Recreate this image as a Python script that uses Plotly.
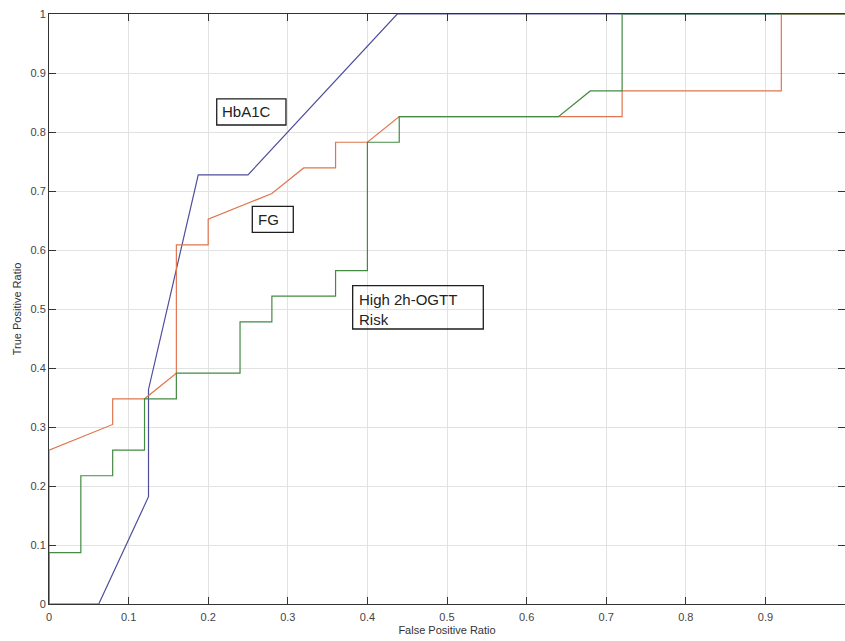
import plotly.graph_objects as go

# HbA1C ROC
hba1c_fpr = [0, 0.0625, 0.125, 0.125, 0.1875, 0.25, 0.4375, 1.0]
hba1c_tpr = [0, 0, 0.1818, 0.3636, 0.7273, 0.7273, 1.0, 1.0]

# FG ROC
fg_fpr = [0, 0, 0.08, 0.08, 0.12, 0.16, 0.16, 0.20, 0.20, 0.28, 0.32, 0.36, 0.36,
          0.40, 0.44, 0.72, 0.72, 0.92, 0.92, 1.0]
fg_tpr = [0, 0.2609, 0.3043, 0.3478, 0.3478, 0.3913, 0.6087, 0.6087, 0.6522, 0.6957,
          0.7391, 0.7391, 0.7826, 0.7826, 0.8261, 0.8261, 0.8696, 0.8696, 1.0, 1.0]

# High 2h-OGTT Risk ROC
ogtt_fpr = [0, 0, 0.04, 0.04, 0.08, 0.08, 0.12, 0.12, 0.16, 0.16, 0.24, 0.24, 0.28,
            0.28, 0.36, 0.36, 0.40, 0.40, 0.44, 0.44, 0.64, 0.68, 0.72, 0.72, 1.0]
ogtt_tpr = [0, 0.0870, 0.0870, 0.2174, 0.2174, 0.2609, 0.2609, 0.3478, 0.3478, 0.3913,
            0.3913, 0.4783, 0.4783, 0.5217, 0.5217, 0.5652, 0.5652, 0.7826, 0.7826,
            0.8261, 0.8261, 0.8696, 0.8696, 1.0, 1.0]

x_ticks = [0, 0.1, 0.2, 0.3, 0.4, 0.5, 0.6, 0.7, 0.8, 0.9]
x_tick_text = ["0", "0.1", "0.2", "0.3", "0.4", "0.5", "0.6", "0.7", "0.8", "0.9"]
y_ticks = [0, 0.1, 0.2, 0.3, 0.4, 0.5, 0.6, 0.7, 0.8, 0.9, 1.0]
y_tick_text = ["0", "0.1", "0.2", "0.3", "0.4", "0.5", "0.6", "0.7", "0.8", "0.9", "1"]

# label text boxes: text, box x0, x1, y0 (bottom), y1 (top), text left x, text mid y
label_texts = ["HbA1C", "FG", "High 2h-OGTT<br>Risk"]
label_box_x = [(0.2107, 0.2977), (0.2554, 0.3069), (0.3815, 0.5456)]
label_box_y = [(0.8119, 0.856), (0.6298, 0.6739), (0.4661, 0.5395)]
label_text_x = [0.2142, 0.2602, 0.3867]
label_text_y = [0.834, 0.652, 0.4995]

BLUE = "#4e4e9c"
ORANGE = "#e0764f"
GREEN = "#438a43"

fig = go.Figure()
fig.add_trace(go.Scatter(x=hba1c_fpr, y=hba1c_tpr, mode="lines",
                         line=dict(color=BLUE, width=1.2), name="HbA1C"))
fig.add_trace(go.Scatter(x=fg_fpr, y=fg_tpr, mode="lines",
                         line=dict(color=ORANGE, width=1.2), name="FG"))
fig.add_trace(go.Scatter(x=ogtt_fpr, y=ogtt_tpr, mode="lines",
                         line=dict(color=GREEN, width=1.2), name="High 2h-OGTT Risk"))

FONT = "Liberation Sans, Arial, sans-serif"
ann_font = dict(family=FONT, size=15, color="#222222")

for text, (bx0, bx1), (by0, by1), tx, ty in zip(label_texts, label_box_x, label_box_y,
                                                label_text_x, label_text_y):
    fig.add_shape(type="rect", xref="x", yref="y", x0=bx0, x1=bx1, y0=by0, y1=by1,
                  line=dict(color="#1e1e1e", width=1.3), fillcolor="rgba(0,0,0,0)",
                  layer="above")
    fig.add_annotation(x=tx, y=ty, xref="x", yref="y", xanchor="left", yanchor="middle",
                       text=text, showarrow=False, align="left", font=ann_font)

axis_common = dict(
    showgrid=True, gridcolor="#e2e2e2", gridwidth=1,
    showline=True, linecolor="#333333", linewidth=1, mirror="allticks",
    ticks="inside", ticklen=7, tickcolor="#333333", tickwidth=1,
    zeroline=False,
    tickfont=dict(family=FONT, size=11, color="#444444"),
)

fig.update_layout(
    width=845, height=641,
    margin=dict(l=49, r=0, t=14, b=37),
    paper_bgcolor="white", plot_bgcolor="white",
    showlegend=False,
    xaxis=dict(range=[0, 1.0], tickvals=x_ticks, ticktext=x_tick_text,
               ticklabelstandoff=3,
               title=dict(text="False Positive Ratio", standoff=4,
                          font=dict(family=FONT, size=11, color="#333333")),
               **axis_common),
    yaxis=dict(range=[0, 1.0], tickvals=y_ticks, ticktext=y_tick_text,
               title=dict(text="True Positive Ratio", standoff=6,
                          font=dict(family=FONT, size=11, color="#333333")),
               **axis_common),
)

fig.write_html("out.html")
